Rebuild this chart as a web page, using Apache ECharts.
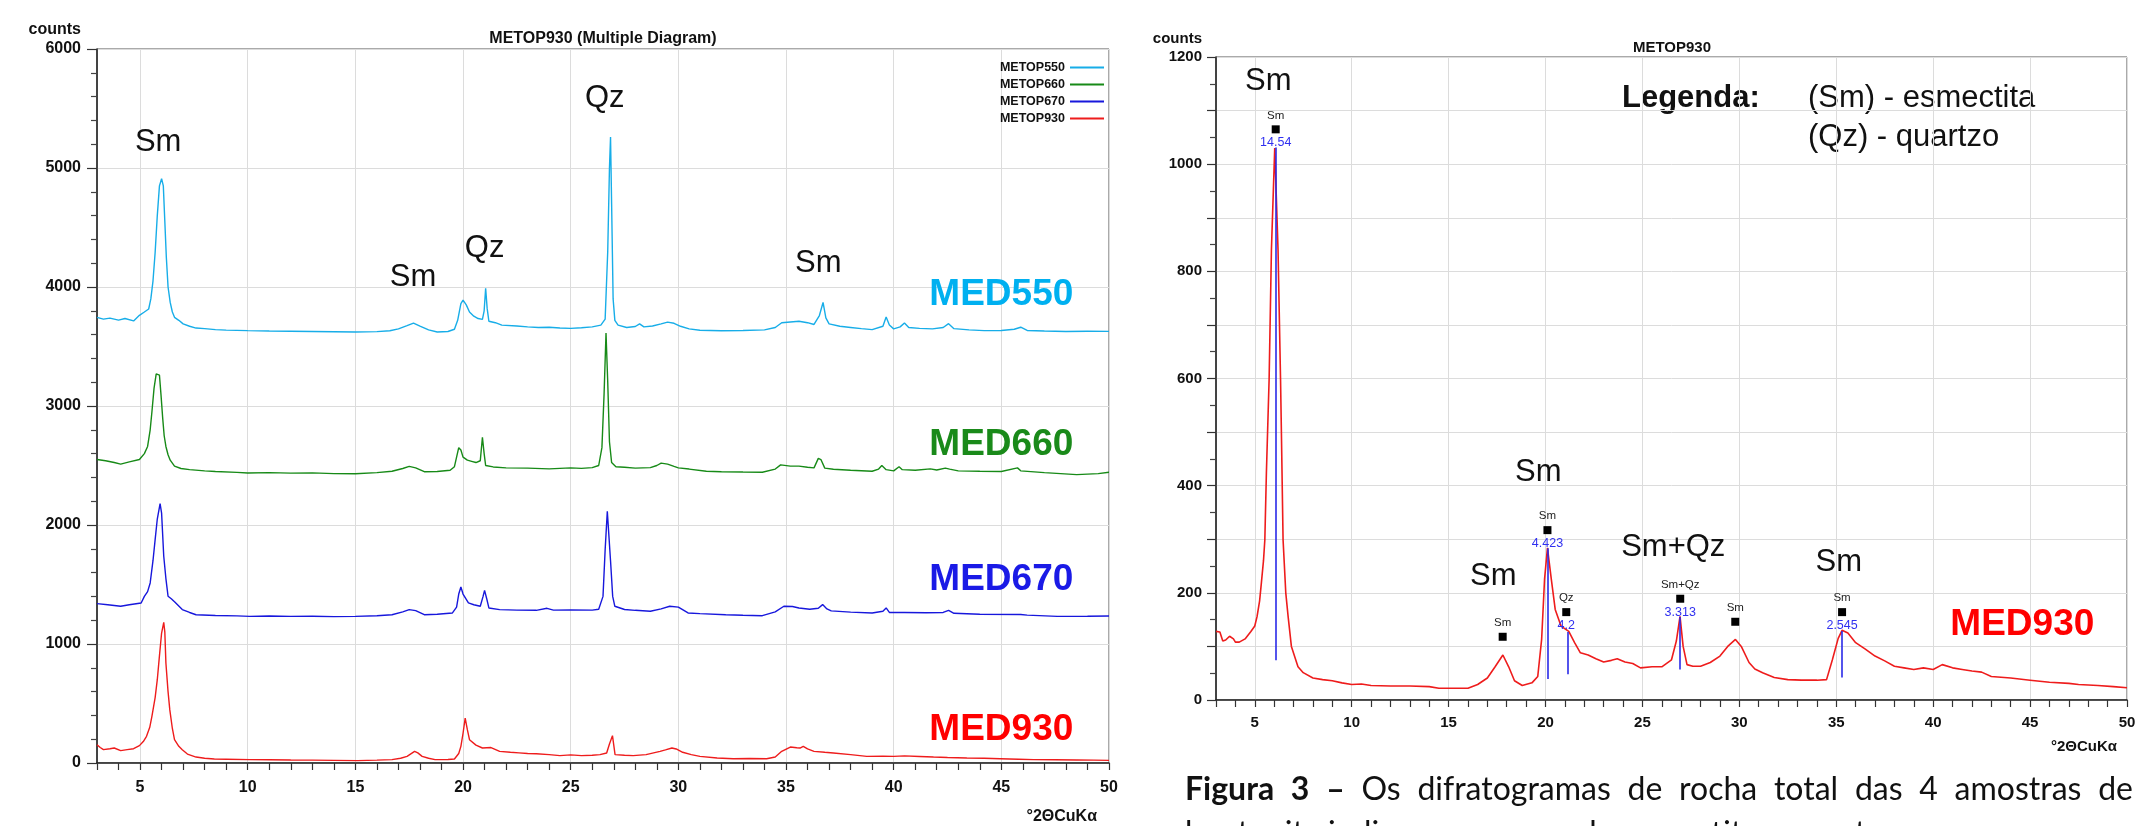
<!DOCTYPE html>
<html>
<head>
<meta charset="utf-8">
<title>METOP930 - difratogramas</title>
<script src="https://cdn.jsdelivr.net/npm/echarts@6/dist/echarts.min.js"></script>
<style>
  html, body { margin: 0; padding: 0; background: #fff; }
  #chart { width: 2156px; height: 826px; }
</style>
</head>
<body>
<div id="chart"></div>
<script>
// ---- data (2theta, counts) ----
const med550 = [[3.0,3745],[3.3,3730],[3.6,3738],[4.0,3722],[4.3,3735],[4.7,3715],[4.97,3762],[5.2,3790],[5.4,3815],[5.5,3900],[5.6,4050],[5.7,4290],[5.8,4600],[5.9,4850],[6.0,4910],[6.08,4850],[6.15,4550],[6.22,4250],[6.3,4000],[6.4,3870],[6.5,3790],[6.6,3745],[6.8,3720],[7.0,3690],[7.3,3670],[7.6,3655],[8.0,3650],[8.5,3642],[9.0,3638],[10,3633],[11,3630],[12,3628],[13,3626],[14,3624],[15,3622],[16,3625],[16.6,3632],[17.0,3648],[17.4,3675],[17.7,3697],[18.0,3672],[18.4,3640],[18.8,3622],[19.3,3626],[19.6,3645],[19.75,3720],[19.9,3860],[20.0,3890],[20.15,3850],[20.3,3790],[20.5,3755],[20.7,3735],[20.9,3728],[20.98,3800],[21.05,3990],[21.12,3820],[21.2,3712],[21.5,3700],[21.8,3680],[22.5,3672],[23.0,3665],[23.5,3660],[24.0,3662],[24.5,3655],[25.0,3652],[25.5,3658],[26.0,3665],[26.4,3680],[26.6,3730],[26.72,4300],[26.8,5000],[26.85,5260],[26.9,4700],[26.97,3900],[27.05,3720],[27.2,3680],[27.6,3660],[28.0,3668],[28.2,3690],[28.4,3665],[28.8,3672],[29.2,3690],[29.5,3705],[29.8,3695],[30.1,3670],[30.5,3648],[31.0,3636],[32.0,3632],[33.0,3635],[34.0,3640],[34.5,3660],[34.8,3700],[35.2,3706],[35.6,3712],[36.0,3700],[36.3,3685],[36.55,3760],[36.72,3870],[36.85,3740],[37.0,3690],[37.5,3670],[38.0,3660],[38.5,3650],[39.0,3642],[39.5,3670],[39.65,3748],[39.8,3680],[40.0,3648],[40.3,3665],[40.5,3698],[40.7,3660],[41.2,3652],[41.8,3648],[42.3,3660],[42.55,3692],[42.8,3650],[43.5,3640],[44.2,3633],[45.0,3635],[45.6,3645],[45.9,3662],[46.2,3635],[47.0,3630],[48.0,3626],[49.0,3628],[50.0,3627]];

const med660 = [[3.0,2550],[3.4,2540],[3.8,2525],[4.1,2512],[4.5,2530],[4.97,2550],[5.2,2600],[5.35,2660],[5.47,2800],[5.55,2950],[5.65,3150],[5.75,3270],[5.82,3283],[5.9,3260],[5.97,3100],[6.05,2900],[6.12,2750],[6.2,2660],[6.3,2590],[6.4,2545],[6.6,2495],[6.9,2475],[7.3,2465],[8.0,2455],[8.5,2450],[9.5,2442],[10,2437],[11,2440],[12,2436],[13,2438],[14,2432],[15,2431],[16,2440],[16.7,2452],[17.2,2475],[17.5,2493],[17.8,2480],[18.2,2448],[18.8,2450],[19.4,2460],[19.6,2490],[19.7,2570],[19.8,2650],[19.9,2630],[20.0,2570],[20.2,2545],[20.4,2535],[20.6,2525],[20.8,2540],[20.9,2737],[20.98,2600],[21.05,2500],[21.4,2488],[22,2480],[23,2478],[24,2472],[25,2480],[25.5,2476],[26.0,2482],[26.3,2500],[26.45,2650],[26.55,3100],[26.64,3613],[26.72,3200],[26.8,2700],[26.9,2525],[27.1,2490],[27.5,2485],[28.0,2478],[28.7,2482],[29.0,2500],[29.2,2520],[29.5,2512],[29.8,2492],[30.0,2480],[30.5,2470],[31.3,2452],[32.0,2448],[33.0,2445],[33.9,2443],[34.5,2470],[34.75,2505],[35.2,2495],[35.6,2495],[36.0,2485],[36.3,2480],[36.5,2560],[36.62,2550],[36.8,2478],[37.2,2468],[38.0,2460],[39.0,2452],[39.3,2470],[39.45,2500],[39.65,2465],[40.0,2455],[40.25,2490],[40.4,2465],[41.0,2460],[41.7,2472],[42.0,2462],[42.4,2478],[42.6,2470],[43.0,2455],[44.0,2452],[45.0,2450],[45.75,2480],[45.9,2455],[47.0,2440],[48.5,2423],[49.5,2432],[50,2443]];

const med670 = [[3.0,1339],[3.5,1330],[4.1,1317],[4.5,1330],[5.05,1345],[5.2,1400],[5.35,1440],[5.47,1513],[5.6,1700],[5.7,1877],[5.8,2050],[5.93,2179],[6.0,2100],[6.1,1737],[6.2,1550],[6.3,1401],[6.45,1380],[6.6,1355],[6.96,1289],[7.3,1265],[7.6,1246],[8.5,1240],[9.5,1236],[10.1,1232],[11,1235],[12,1232],[13,1233],[14,1230],[15,1232],[16,1238],[16.7,1246],[17.2,1270],[17.5,1289],[17.8,1280],[18.2,1246],[18.8,1250],[19.5,1260],[19.7,1310],[19.8,1420],[19.9,1479],[20.0,1420],[20.25,1345],[20.5,1330],[20.8,1317],[20.93,1400],[21.0,1451],[21.1,1380],[21.2,1303],[21.7,1289],[22.5,1285],[23.4,1283],[23.9,1300],[24.2,1285],[25,1287],[26,1285],[26.3,1292],[26.5,1400],[26.6,1793],[26.7,2115],[26.75,2100],[26.85,1700],[26.95,1400],[27.05,1317],[27.5,1290],[28.0,1283],[28.7,1275],[29.2,1295],[29.6,1317],[30.0,1310],[30.45,1261],[31,1255],[32.2,1246],[33.0,1242],[33.9,1238],[34.5,1270],[34.9,1317],[35.3,1315],[35.6,1303],[36.1,1292],[36.5,1300],[36.7,1331],[36.9,1295],[37.1,1278],[38,1268],[39,1261],[39.5,1275],[39.65,1303],[39.8,1265],[40.5,1265],[41.5,1262],[42.3,1265],[42.55,1283],[42.8,1258],[44,1250],[45.9,1248],[46.2,1243],[47.6,1232],[49,1233],[50,1235]];

const med930 = [[3.0,154],[3.15,130],[3.3,112],[3.6,120],[3.8,126],[4.1,104],[4.4,112],[4.7,120],[4.97,146],[5.15,180],[5.3,224],[5.45,300],[5.55,392],[5.7,550],[5.8,700],[5.9,900],[6.0,1092],[6.1,1182],[6.15,1100],[6.2,840],[6.3,600],[6.38,448],[6.5,290],[6.6,196],[6.8,140],[6.96,112],[7.2,75],[7.6,50],[8.0,40],[8.45,34],[9.0,32],[10.1,28],[11,27],[12,25],[13,24],[14,22],[15.1,20],[16,24],[16.7,28],[17.1,40],[17.4,56],[17.75,98],[17.9,85],[18.1,56],[18.4,40],[18.7,28],[19.3,30],[19.6,34],[19.8,80],[19.9,140],[20.0,250],[20.1,378],[20.2,280],[20.3,196],[20.6,150],[20.9,126],[21.3,130],[21.7,98],[22.2,90],[22.6,85],[23.0,80],[23.4,78],[24.0,70],[24.5,62],[25.0,68],[25.5,62],[26.0,65],[26.36,70],[26.67,84],[26.8,160],[26.94,230],[27.06,70],[27.5,65],[27.9,62],[28.5,70],[29.15,98],[29.4,110],[29.7,126],[29.9,118],[30.2,90],[30.6,70],[31.0,56],[31.8,42],[32.55,36],[33.3,38],[34.1,36],[34.5,50],[34.8,98],[35.2,134],[35.5,128],[35.65,126],[35.8,140],[36.0,118],[36.3,98],[36.8,90],[37.2,84],[38.0,70],[38.75,56],[39.5,58],[40,56],[40.5,60],[41.2,55],[41.85,50],[42.5,46],[43.4,42],[44.2,40],[44.95,36],[45.8,32],[46.5,28],[47.5,27],[48.5,25],[49.3,24],[50,22]];

// single MED930 pattern (right panel)
const med930Single = [[3.0,128],[3.2,127],[3.35,110],[3.5,112],[3.7,119],[3.9,114],[4.0,108],[4.2,108],[4.5,114],[4.8,128],[5.0,138],[5.12,156],[5.25,185],[5.34,218],[5.45,260],[5.52,299],[5.6,424],[5.74,598],[5.86,841],[6.03,1030],[6.2,841],[6.33,598],[6.38,486],[6.46,299],[6.6,200],[6.72,156],[6.89,100],[7.23,62],[7.5,51],[8.0,41],[8.5,38],[9.0,36],[9.5,32],[10.0,29],[10.5,30],[11.0,27],[12.0,26],[13.0,26],[14.0,25],[14.5,22],[15.0,22],[16.0,22],[16.5,29],[17.0,41],[17.4,62],[17.8,84],[18.1,62],[18.4,36],[18.8,27],[19.3,32],[19.6,44],[19.8,113],[19.95,225],[20.1,284],[20.3,225],[20.5,169],[20.8,138],[21.2,128],[21.5,107],[21.8,88],[22.2,84],[22.6,77],[23.0,71],[23.4,74],[23.7,77],[24.1,71],[24.5,68],[24.9,60],[25.5,62],[26.0,62],[26.5,75],[26.75,110],[26.94,156],[27.1,100],[27.3,66],[27.6,63],[28.0,63],[28.5,70],[29.0,82],[29.4,100],[29.8,113],[30.1,100],[30.5,70],[30.8,58],[31.2,51],[31.8,42],[32.5,38],[33.2,37],[34.0,37],[34.5,38],[34.8,75],[35.1,115],[35.3,130],[35.6,125],[36.0,107],[36.5,95],[37.0,82],[37.5,73],[38.0,63],[38.5,60],[39.0,57],[39.5,60],[40.0,57],[40.47,66],[41.0,60],[41.5,57],[42.0,54],[42.5,52],[43.0,44],[44.0,41],[45.0,37],[46.0,33],[47.0,31],[47.5,29],[48.5,27],[49.3,25],[50.0,23]];

const seriesNames = ['METOP550', 'METOP660', 'METOP670', 'METOP930'];
const sampleNames = ['MED550', 'MED660', 'MED670', 'MED930'];
const xMajorTicks = [5, 10, 15, 20, 25, 30, 35, 40, 45, 50];

// phase labels: [text, 2theta, counts]
const leftPhaseLabels = [['Sm', 5.84, 5215], ['Sm', 17.68, 4081], ['Qz', 21.0, 4327], ['Qz', 26.58, 5588], ['Sm', 36.5, 4202]];
const leftSampleLabels = [[45.0, 3935], [45.0, 2675], [45.0, 1540], [45.0, 280]];
const rightPhaseLabels = [['Sm', 5.7, 1154], ['Sm', 17.31, 230], ['Sm', 19.63, 425], ['Sm+Qz', 26.59, 285], ['Sm', 35.13, 257]];
const rightSampleLabel = [44.6, 140];

// peak markers: [phase, 2theta, counts, d-spacing]
const peakMarks = [['Sm', 6.08, 1065, '14.54'], ['Sm', 17.79, 118, ''], ['Sm', 20.1, 317, '4.423'], ['Qz', 21.07, 164, '4.2'], ['Sm+Qz', 26.95, 189, '3.313'], ['Sm', 29.79, 146, ''], ['Sm', 35.3, 164, '2.545']];
// reference sticks: [2theta, top, bottom]
const sticks = [[6.08, 1031, 74], [20.1, 283, 39], [21.17, 127, 48], [26.94, 155, 57], [35.28, 129, 42]];

const captionLine1 = ['Figura', '3', '–', 'Os', 'difratogramas', 'de', 'rocha', 'total', 'das', '4', 'amostras', 'de'];
const captionBoldWords = 3;
const captionLine2 = 'bentonita indicam presença de esmectita e quartzo.';

// ---- styling ----
const FONT = 'Liberation Sans, Arial, sans-serif';
const CAPTION_FONT = '32px Lato, sans-serif';
const CAPTION_BOLD = 'bold 32px Lato, sans-serif';
const lineColors = ['#17ADE8', '#178A17', '#1717DC', '#EE1C1C'];
const textColors = ['#00B0F0', '#1A8A1A', '#1A1AE6', '#FF0000'];
const GRID_LINE = '#dcdcdc';
const AXIS = '#222';

const chart = echarts.init(document.getElementById('chart'), null, { renderer: 'canvas' });

// justified caption: spread words of the first line between two x limits
function justifiedWords(words, x0, x1, y) {
  const ctx = document.createElement('canvas').getContext('2d');
  const widths = words.map((w, i) => {
    ctx.font = i < captionBoldWords ? CAPTION_BOLD : CAPTION_FONT;
    return ctx.measureText(w).width;
  });
  const total = widths.reduce((a, b) => a + b, 0);
  const gap = (x1 - x0 - total) / (words.length - 1);
  let x = x0;
  return words.map((w, i) => {
    const el = { type: 'text', x, y, style: { text: w, font: i < captionBoldWords ? CAPTION_BOLD : CAPTION_FONT, fill: '#111', align: 'left', verticalAlign: 'middle' } };
    x += widths[i] + gap;
    return el;
  });
}

function xLabelAxis(gridIndex, fontSize, margin) {
  return {
    type: 'value', gridIndex, min: 3, max: 50, position: 'bottom',
    axisLine: { show: false },
    axisTick: { show: false, customValues: xMajorTicks },
    axisLabel: { customValues: xMajorTicks, margin, color: '#111', fontFamily: FONT, fontWeight: 'bold', fontSize },
    splitLine: { show: true, lineStyle: { color: GRID_LINE, width: 1 } }
  };
}
function xTickAxis(gridIndex) {
  return {
    type: 'value', gridIndex, min: 3, max: 50, interval: 1, position: 'bottom',
    axisLine: { show: true, onZero: false, lineStyle: { color: AXIS, width: 1.5 } },
    axisTick: { show: true, length: 7, lineStyle: { color: '#333', width: 1.2 } },
    axisLabel: { show: false },
    splitLine: { show: false }
  };
}

const annot = (data, extra) => Object.assign({
  type: 'scatter', symbolSize: 1, itemStyle: { color: 'rgba(0,0,0,0)', opacity: 1 },
  silent: true, z: 10, data
}, extra);

const option = {
  backgroundColor: '#fff',
  animation: false,
  grid: [
    { left: 97, top: 49, width: 1012, height: 714, show: true, borderColor: '#555', borderWidth: 1 },
    { left: 1216, top: 57, width: 911, height: 643, show: true, borderColor: '#555', borderWidth: 1 }
  ],
  legend: {
    data: seriesNames, orient: 'vertical', right: 1047, top: 55, align: 'right',
    icon: 'rect', itemWidth: 34, itemHeight: 2, itemGap: 2, selectedMode: false,
    textStyle: { fontFamily: FONT, fontWeight: 'bold', fontSize: 12.5, color: '#111', lineHeight: 15 }
  },
  xAxis: [xLabelAxis(0, 16, 17), xTickAxis(0), xLabelAxis(1, 15, 15), xTickAxis(1)],
  yAxis: [
    {
      type: 'value', gridIndex: 0, min: 0, max: 6000, interval: 1000,
      axisLine: { show: true, lineStyle: { color: AXIS, width: 1.5 } },
      axisTick: { show: true, length: 10, lineStyle: { color: '#333', width: 1.2 } },
      minorTick: { show: true, splitNumber: 5, length: 6, lineStyle: { color: '#444', width: 1.2 } },
      axisLabel: { margin: 16, color: '#111', fontFamily: FONT, fontWeight: 'bold', fontSize: 16, formatter: v => String(v) },
      splitLine: { show: true, lineStyle: { color: GRID_LINE, width: 1 } }
    },
    {
      type: 'value', gridIndex: 1, min: 0, max: 1200, interval: 100,
      axisLine: { show: true, lineStyle: { color: AXIS, width: 1.5 } },
      axisTick: { show: true, length: 9, lineStyle: { color: '#333', width: 1.2 } },
      minorTick: { show: true, splitNumber: 2, length: 6, lineStyle: { color: '#444', width: 1.2 } },
      axisLabel: {
        margin: 14, color: '#111', fontFamily: FONT, fontWeight: 'bold', fontSize: 15,
        formatter: v => (v % 200 === 0 ? String(v) : '')
      },
      splitLine: { show: true, lineStyle: { color: GRID_LINE, width: 1 } }
    }
  ],
  graphic: [
    { type: 'text', x: 603, y: 39, style: { text: 'METOP930 (Multiple Diagram)', font: 'bold 16px ' + FONT, fill: '#111', align: 'center', verticalAlign: 'middle' } },
    { type: 'text', x: 81, y: 30, style: { text: 'counts', font: 'bold 16px ' + FONT, fill: '#111', align: 'right', verticalAlign: 'middle' } },
    { type: 'text', x: 1097, y: 817, style: { text: '°2ΘCuKα', font: 'bold 16px ' + FONT, fill: '#111', align: 'right', verticalAlign: 'middle' } },
    { type: 'text', x: 1672, y: 48, style: { text: 'METOP930', font: 'bold 15px ' + FONT, fill: '#111', align: 'center', verticalAlign: 'middle' } },
    { type: 'text', x: 1202, y: 39, style: { text: 'counts', font: 'bold 15px ' + FONT, fill: '#111', align: 'right', verticalAlign: 'middle' } },
    { type: 'text', x: 2117, y: 747, style: { text: '°2ΘCuKα', font: 'bold 15px ' + FONT, fill: '#111', align: 'right', verticalAlign: 'middle' } },
    { type: 'text', x: 1622, y: 98, style: { text: 'Legenda:', font: 'bold 31px ' + FONT, fill: '#111', align: 'left', verticalAlign: 'middle' } },
    { type: 'text', x: 1808, y: 98, style: { text: '(Sm) - esmectita', font: '31px ' + FONT, fill: '#111', align: 'left', verticalAlign: 'middle' } },
    { type: 'text', x: 1808, y: 137, style: { text: '(Qz) - quartzo', font: '31px ' + FONT, fill: '#111', align: 'left', verticalAlign: 'middle' } },
    ...justifiedWords(captionLine1, 1185, 2133, 790),
    { type: 'text', x: 1185, y: 834, style: { text: captionLine2, font: CAPTION_FONT, fill: '#111', align: 'left', verticalAlign: 'middle' } }
  ],
  series: [
    ...[med550, med660, med670, med930].map((d, i) => ({
      name: seriesNames[i], type: 'line', xAxisIndex: 0, yAxisIndex: 0,
      showSymbol: false, symbol: 'none', data: d,
      lineStyle: { color: lineColors[i], width: 1.4 }, itemStyle: { color: lineColors[i] }
    })),
    {
      name: 'MED930 (single)', type: 'line', xAxisIndex: 2, yAxisIndex: 1,
      showSymbol: false, symbol: 'none', data: med930Single,
      lineStyle: { color: lineColors[3], width: 1.6 }, itemStyle: { color: lineColors[3] },
      markLine: {
        silent: true, symbol: 'none', label: { show: false },
        lineStyle: { color: '#2A2AE8', width: 1.6, type: 'solid', opacity: 1 },
        data: sticks.map(s => [{ coord: [s[0], s[1]] }, { coord: [s[0], s[2]] }])
      }
    },
    annot(leftPhaseLabels.map(p => ({ name: p[0], value: [p[1], p[2]] })), {
      xAxisIndex: 0, yAxisIndex: 0,
      label: { show: true, position: 'inside', formatter: '{b}', fontFamily: FONT, fontSize: 31, color: '#111', opacity: 1 }
    }),
    annot(leftSampleLabels.map((p, i) => ({ name: sampleNames[i], value: p, label: { color: textColors[i] } })), {
      xAxisIndex: 0, yAxisIndex: 0,
      label: { show: true, position: 'inside', formatter: '{b}', fontFamily: FONT, fontWeight: 'bold', fontSize: 37, opacity: 1 }
    }),
    annot(rightPhaseLabels.map(p => ({ name: p[0], value: [p[1], p[2]] })), {
      xAxisIndex: 2, yAxisIndex: 1,
      label: { show: true, position: 'inside', formatter: '{b}', fontFamily: FONT, fontSize: 31, color: '#111', opacity: 1 }
    }),
    annot([{ name: sampleNames[3], value: rightSampleLabel }], {
      xAxisIndex: 2, yAxisIndex: 1,
      label: { show: true, position: 'inside', formatter: '{b}', fontFamily: FONT, fontWeight: 'bold', fontSize: 37, color: textColors[3], opacity: 1 }
    }),
    {
      type: 'scatter', xAxisIndex: 2, yAxisIndex: 1, silent: true, z: 11,
      symbol: 'rect', symbolSize: 8, itemStyle: { color: '#000', opacity: 1 },
      data: peakMarks.map(p => ({ name: p[0], value: [p[1], p[2]] })),
      label: { show: true, position: 'top', distance: 4, formatter: '{b}', fontFamily: FONT, fontSize: 11.5, color: '#222', opacity: 1 }
    },
    annot(peakMarks.map(p => ({ name: p[3], value: [p[1], p[2]] })), {
      xAxisIndex: 2, yAxisIndex: 1, symbolSize: 8,
      label: { show: true, position: 'bottom', distance: 3, formatter: '{b}', fontFamily: FONT, fontSize: 12.5, color: '#3030F0', opacity: 1 }
    })
  ]
};

chart.setOption(option);
</script>
</body>
</html>
